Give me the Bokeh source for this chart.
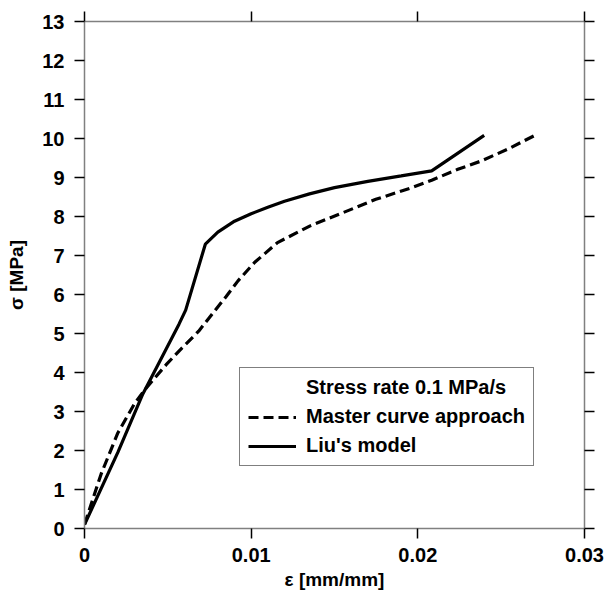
from bokeh.plotting import figure
from bokeh.models import (Range1d, LinearAxis, FixedTicker, Legend, LegendItem,
                          CustomLabelingPolicy)
from bokeh.embed import file_html
from bokeh.resources import INLINE

# Data
master_eps = [0.0, 0.001, 0.002, 0.003, 0.0036, 0.0049, 0.00567, 0.00685, 0.00764,
              0.0085, 0.00921, 0.0102, 0.01158, 0.01354, 0.01552, 0.01748, 0.0195,
              0.02083, 0.0224, 0.02378, 0.02536, 0.02703]
master_sigma = [0.1, 1.4, 2.45, 3.2, 3.55, 4.2, 4.55, 5.06, 5.49,
                5.95, 6.35, 6.82, 7.33, 7.76, 8.10, 8.44, 8.72,
                8.93, 9.21, 9.42, 9.72, 10.08]

liu_eps = [0.0, 0.002, 0.0035, 0.00567, 0.00607, 0.00725, 0.008, 0.009, 0.010,
           0.011, 0.012, 0.0135, 0.015, 0.017, 0.019, 0.02083, 0.02398]
liu_sigma = [0.1, 1.95, 3.45, 5.24, 5.6, 7.29, 7.6, 7.88, 8.07,
             8.24, 8.39, 8.58, 8.74, 8.9, 9.04, 9.17, 10.08]

x_ticks = [0, 0.01, 0.02, 0.03]
x_tick_labels = {0: "0", 0.01: "0.01", 0.02: "0.02", 0.03: "0.03"}
y_ticks = list(range(0, 14))

legend_title = "Stress rate 0.1 MPa/s"
label_master = "Master curve approach"
label_liu = "Liu's model"
x_label = "ε [mm/mm]"
y_label = "σ [MPa]"

FONT = "Liberation Sans"
AXIS_COLOR = "#808080"

p = figure(width=608, height=592, output_backend="svg", toolbar_location=None,
           x_range=Range1d(0, 0.03), y_range=Range1d(0, 13),
           x_axis_location=None, y_axis_location=None,
           min_border_left=84, min_border_right=16, min_border_top=21, min_border_bottom=64)
p.xgrid.visible = False
p.ygrid.visible = False
p.outline_line_color = None
p.background_fill_color = "white"
p.border_fill_color = "white"

hide_labels = CustomLabelingPolicy(
    code="for (const i of indices) { indices.unset(i) }; return indices")


def style_axis(ax, labels=True):
    ax.axis_line_color = AXIS_COLOR
    ax.axis_line_width = 1.5
    ax.major_tick_line_color = "black"
    ax.major_tick_line_width = 1.5
    ax.major_tick_out = 10
    ax.major_tick_in = 0
    ax.minor_tick_line_color = None
    ax.major_label_text_font = FONT
    ax.major_label_text_font_style = "bold"
    ax.major_label_text_color = "black"
    ax.axis_label_text_font = FONT
    ax.axis_label_text_font_style = "bold"
    ax.axis_label_text_color = "black"
    if labels:
        ax.major_label_text_font_size = "20px"
        ax.axis_label_text_font_size = "19px"
        ax.major_label_standoff = 9
    else:
        ax.major_label_policy = hide_labels
        ax.major_label_text_font_size = "10px"
        ax.major_label_standoff = 0


xb = LinearAxis(ticker=FixedTicker(ticks=x_ticks), axis_label=x_label,
                major_label_overrides=x_tick_labels)
style_axis(xb)
xb.axis_label_standoff = 4
p.add_layout(xb, "below")

yl = LinearAxis(ticker=FixedTicker(ticks=y_ticks), axis_label=y_label)
style_axis(yl)
yl.major_label_standoff = 10
yl.axis_label_standoff = 12
p.add_layout(yl, "left")

xt = LinearAxis(ticker=FixedTicker(ticks=x_ticks))
style_axis(xt, labels=False)
p.add_layout(xt, "above")

yr = LinearAxis(ticker=FixedTicker(ticks=y_ticks))
style_axis(yr, labels=False)
p.add_layout(yr, "right")

r_master = p.line(master_eps, master_sigma, line_color="black", line_width=3.2,
                  line_dash="10 5")
r_liu = p.line(liu_eps, liu_sigma, line_color="black", line_width=3.2)
r_title = p.line([], [], line_alpha=0)

legend = Legend(items=[LegendItem(label=legend_title, renderers=[r_title]),
                       LegendItem(label=label_master, renderers=[r_master]),
                       LegendItem(label=label_liu, renderers=[r_liu])],
                location=(155, 62))
legend.label_text_font = FONT
legend.label_text_font_style = "bold"
legend.label_text_font_size = "20px"
legend.label_text_color = "black"
legend.label_height = 22
legend.glyph_height = 22
legend.glyph_width = 48
legend.label_standoff = 10
legend.spacing = 6
legend.padding = 8
legend.margin = 0
legend.border_line_color = "black"
legend.border_line_width = 1.5
legend.background_fill_color = "white"
legend.background_fill_alpha = 1
p.add_layout(legend, "center")

open("out.html", "w").write(file_html(p, INLINE))
